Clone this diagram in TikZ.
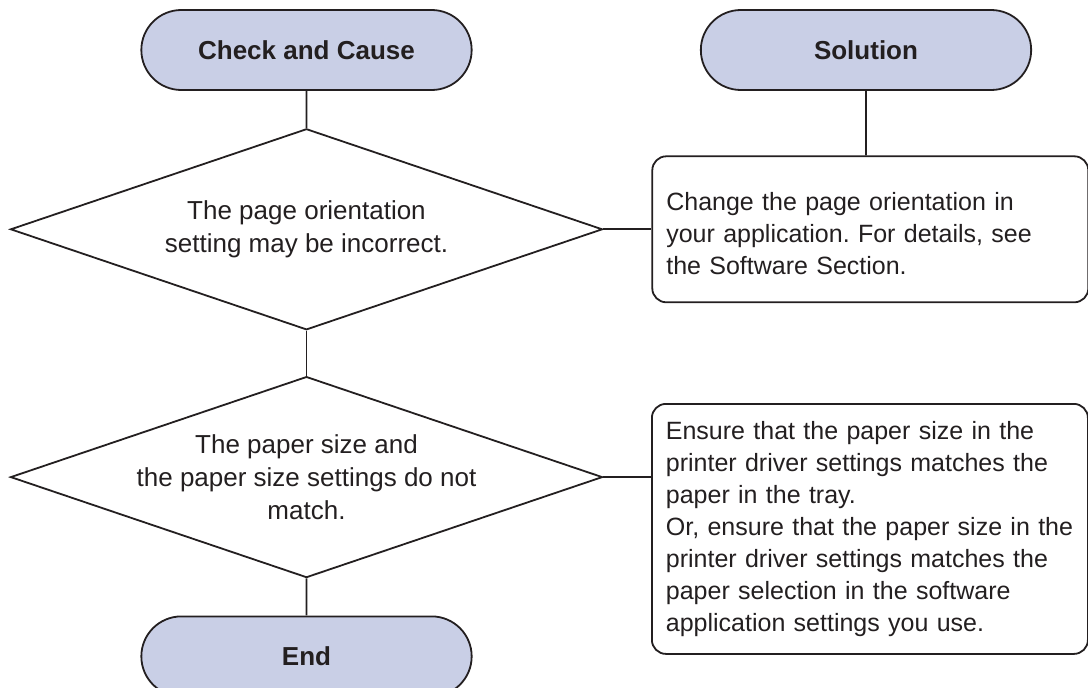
\documentclass[tikz,border=0pt]{standalone}
\usepackage{fontspec}
\setmainfont{Liberation Sans}
\usetikzlibrary{shapes.geometric, shapes.misc, positioning}
\definecolor{termfill}{RGB}{201,207,230}
\definecolor{ink}{RGB}{35,31,32}
\frenchspacing

\begin{document}
\begin{tikzpicture}[x=1pt, y=1pt,
  terminal/.style={rounded rectangle, draw=ink, fill=termfill, line width=1.8pt, minimum width=337pt, minimum height=80pt, font=\fontsize{26}{30}\selectfont\bfseries, text=ink},
  decision/.style={diamond, aspect=2.95, draw=ink, line width=1.8pt, minimum width=592pt, minimum height=201pt, inner sep=0pt, align=center, font=\fontsize{26}{33}\selectfont, text=ink},
  note/.style={rectangle, draw=ink, line width=1.8pt, rounded corners=14pt, text width=408pt, inner xsep=14pt, align=left, font=\fontsize{25}{32}\selectfont, text=ink},
  line/.style={draw=ink, line width=1.8pt}]

\useasboundingbox (0,0) rectangle (1088,-688);

\node[terminal] (check) at (306.5,-50) {Check and Cause};
\node[terminal] (sol) at (866,-50) {Solution};
\node[decision, below=37pt of check] (orient) {The page orientation\\setting may be incorrect.};
\node[decision, below=45pt of orient] (size) {The paper size and\\the paper size settings do not\\match.};
\node[terminal, below=37pt of size] (finish) {End};
\node[note, right=48pt of orient, minimum height=146pt, text height=26pt] (fix1) {Change the page orientation in\\your application. For details, see\\the Software Section.};
\node[note, anchor=north west, minimum height=250pt] (fix2) at (651,-403) {Ensure that the paper size in the\\printer driver settings matches the\\paper in the tray.\\Or, ensure that the paper size in the\\printer driver settings matches the\\paper selection in the software\\application settings you use.};

\draw[line] (check) -- (orient);
\draw[line] (orient) -- (size);
\draw[line] (size) -- (finish);
\draw[line] (sol) -- (sol |- fix1.north);
\draw[line] (orient) -- (fix1);
\draw[line] (size.east) -- (size.east -| fix2.west);

\end{tikzpicture}
\end{document}
